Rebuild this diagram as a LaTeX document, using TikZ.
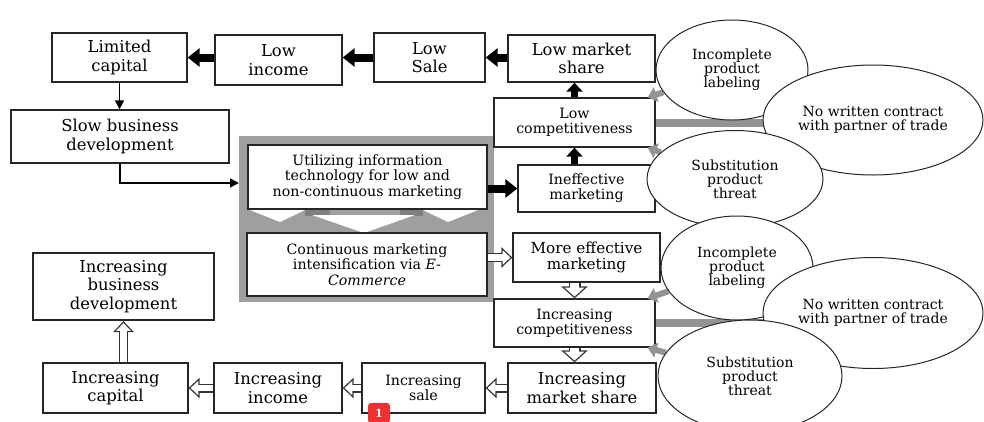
\documentclass[tikz,border=0pt]{standalone}
\usepackage{fontspec}
\setmainfont{DejaVu Serif}
\usetikzlibrary{arrows.meta,shapes.geometric}
\pgfdeclarelayer{front}
\pgfsetlayers{main,front}
\definecolor{badgered}{RGB}{238,48,48}
\tikzset{
  box/.style={draw=black!85, line width=1.3pt, fill=white, align=center, inner sep=1pt},
  big/.style={font=\fontsize{16.4}{18.5}\selectfont},
  med/.style={font=\fontsize{15.2}{15.8}\selectfont},
  small/.style={font=\fontsize{14.2}{15.2}\selectfont},
  ell/.style={ellipse, draw=black!85, line width=1pt, fill=white, align=center, inner sep=0pt, font=\fontsize{14}{14.2}\selectfont},
  blk/.style={draw=black, line width=8pt, -{Triangle[length=12pt,width=18pt]}},
  blkv/.style={draw=black, line width=7pt, -{Triangle[length=9pt,width=16pt]}},
  thinarr/.style={draw=black, line width=1.6pt, -{Triangle[length=9pt,width=9pt]}},
  holA/.style={draw=black!80, line width=9pt, -{Triangle[length=11pt,width=20pt]}},
  holB/.style={draw=white, line width=6.4pt, shorten >=1.95pt, shorten <=0.7pt, -{Triangle[length=7.8pt,width=14.2pt]}},
  holAb/.style={draw=black!80, line width=12pt, -{Triangle[length=12pt,width=26pt]}},
  holBb/.style={draw=white, line width=9.4pt, shorten >=1.8pt, shorten <=0.7pt, -{Triangle[length=8.9pt,width=19.3pt]}},
  greyarr/.style={draw=gray!85, line width=6pt, -{Triangle[length=9pt,width=15pt]}},
  greybar/.style={draw=gray!85, line width=8pt},
}
\begin{document}
\begin{tikzpicture}[x=1pt,y=-1pt]
\useasboundingbox (0,0) rectangle (984,421);
\clip (0,0) rectangle (984,421);
\fill[white] (0,0) rectangle (984,421);

% grey group with chevrons
\node[fill=gray!75, minimum width=255pt, minimum height=166pt, inner sep=0pt] (grp) at (366.5,219) {};
\fill[gray] (305,208) rectangle (330,216);
\fill[gray] (400,208) rectangle (423,216);
\fill[white] (250,210) -- (305,210) -- (280,222) -- cycle;
\fill[white] (312,215) -- (415,215) -- (364,233) -- cycle;
\fill[white] (423,210) -- (478,210) -- (448,222) -- cycle;

% boxes
\node[box, big, minimum width=135pt, minimum height=49pt] (cap) at (119.5,57.5) {Limited\\capital};
\node[box, big, minimum width=127pt, minimum height=50pt] (inc) at (278.5,60) {Low\\income};
\node[box, big, minimum width=111pt, minimum height=49pt] (sale) at (429.5,57.5) {Low\\Sale};
\node[box, big, minimum width=147pt, minimum height=47pt] (lms) at (581.5,58.5) {Low market\\share};
\node[box, big, minimum width=218pt, minimum height=53pt] (slow) at (120,136.5) {Slow business\\development};
\node[box, small, minimum width=239pt, minimum height=64pt] (util) at (367.5,177) {Utilizing information\\technology for low and\\non-continuous marketing};
\node[box, small, minimum width=240pt, minimum height=63pt] (cont) at (367,264.5) {Continuous marketing\\intensification via \textit{E-}\\\textit{Commerce}};
\node[box, small, minimum width=161pt, minimum height=49pt] (lcomp) at (574.5,122.5) {Low\\competitiveness};
\node[box, small, minimum width=137pt, minimum height=47pt] (ineff) at (586.5,188.5) {Ineffective\\marketing};
\node[box, med, minimum width=147pt, minimum height=49pt] (more) at (586.5,257.5) {More effective\\marketing};
\node[box, small, minimum width=161pt, minimum height=48pt] (icomp) at (574.5,323) {Increasing\\competitiveness};
\node[box, big, minimum width=148pt, minimum height=50pt] (ims) at (582,388) {Increasing\\market share};
\node[box, small, minimum width=123pt, minimum height=50pt] (isale) at (423.5,388) {Increasing\\sale};
\node[box, big, minimum width=128pt, minimum height=50pt] (iinc) at (278,388) {Increasing\\income};
\node[box, big, minimum width=145pt, minimum height=50pt] (icap) at (115.5,388) {Increasing\\capital};
\node[box, big, line width=2.2pt, minimum width=181pt, minimum height=67pt] (ibd) at (123.5,286.5) {Increasing\\business\\development};

% ellipses (front layer)
\begin{pgfonlayer}{front}
\node[ell, minimum width=152pt, minimum height=100pt] (e1) at (732,70) {Incomplete\\product\\labeling};
\node[ell, minimum width=220pt, minimum height=110pt] (e2) at (873,120) {No written contract\\with partner of trade};
\node[ell, minimum width=176pt, minimum height=97pt] (e3) at (735,179) {Substitution\\product\\threat};
\node[ell, minimum width=152pt, minimum height=104pt] (e4) at (737,268) {Incomplete\\product\\labeling};
\node[ell, minimum width=220pt, minimum height=111pt] (e5) at (873,313) {No written contract\\with partner of trade};
\node[ell, minimum width=184pt, minimum height=112pt] (e6) at (750,376) {Substitution\\product\\threat};
\node[fill=badgered, rounded corners=3pt, minimum width=22pt, minimum height=20pt, inner sep=0pt, text=white, font=\fontsize{11}{11}\selectfont\bfseries] (badge) at (379,413) {1};
\end{pgfonlayer}

% black arrows
\draw[blk] (inc.west |- cap.east) -- (cap.east);
\draw[blk] (sale.west) -- (inc.east |- sale.west);
\draw[blk] (lms.west |- sale.east) -- (sale.east);
\draw[blkv] (lcomp.north) -- (lcomp.north |- lms.south);
\draw[blkv] (lcomp.south |- ineff.north) -- (lcomp.south);
\draw[blk] (util.east |- ineff.west) -- (ineff.west);

% thin arrows
\draw[thinarr] (cap.south) -- (cap.south |- slow.north);
\coordinate (tin) at (239,183);
\draw[thinarr] (slow.south) |- (tin);

% hollow arrows
\draw[holA] (cont.east |- more.west) -- (more.west);
\draw[holB] (cont.east |- more.west) -- (more.west);
\draw[holAb] (icomp.north |- more.south) -- (icomp.north);
\draw[holBb] (icomp.north |- more.south) -- (icomp.north);
\draw[holAb] (icomp.south) -- (icomp.south |- ims.north);
\draw[holBb] (icomp.south) -- (icomp.south |- ims.north);
\draw[holA] (ims.west) -- (isale.east);
\draw[holB] (ims.west) -- (isale.east);
\draw[holA] (isale.west) -- (iinc.east);
\draw[holB] (isale.west) -- (iinc.east);
\draw[holA] (iinc.west) -- (icap.east);
\draw[holB] (iinc.west) -- (icap.east);
\draw[holA] (ibd.south |- icap.north) -- (ibd.south);
\draw[holB] (ibd.south |- icap.north) -- (ibd.south);

% grey arrows from ellipses
\draw[greyarr] (e1) -- ([xshift=-8pt]lcomp.north east);
\draw[greybar] (lcomp.east -| e2) -- (lcomp.east);
\draw[greyarr] (e3) -- ([xshift=-8pt]lcomp.south east);
\draw[greyarr] (e4) -- ([xshift=-8pt]icomp.north east);
\draw[greybar] (icomp.east -| e5) -- (icomp.east);
\draw[greyarr] (e6) -- ([xshift=-8pt]icomp.south east);
\end{tikzpicture}
\end{document}
